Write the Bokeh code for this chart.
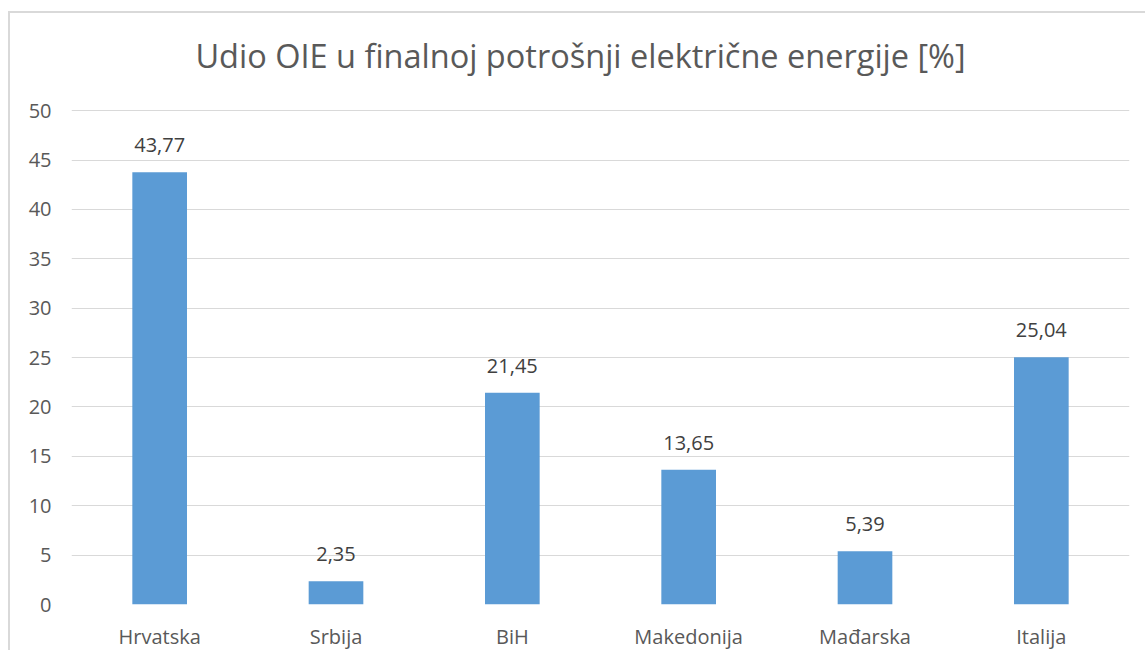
from bokeh.plotting import figure
from bokeh.models import ColumnDataSource, LabelSet, Label, FixedTicker, Range1d
from bokeh.core.properties import value
from bokeh.embed import file_html
from bokeh.resources import INLINE

countries = ["Hrvatska", "Srbija", "BiH", "Makedonija", "Mađarska", "Italija"]
shares = [43.77, 2.35, 21.45, 13.65, 5.39, 25.04]
share_labels = ["43,77", "2,35", "21,45", "13,65", "5,39", "25,04"]
y_ticks = [0, 5, 10, 15, 20, 25, 30, 35, 40, 45, 50]
title_text = "Udio OIE u finalnoj potrošnji električne energije [%]"

FONT = "Open Sans"
GRAY = "#595959"

# the plot frame runs to the top of the chart area so the title can sit inside it;
# the axis itself still ends at 50 (last tick / gridline)
Y_TOP = 59.84

src = ColumnDataSource(dict(c=countries, v=shares, t=share_labels))

p = figure(x_range=countries, y_range=Range1d(0, Y_TOP), width=1137, height=639,
           output_backend="svg", toolbar_location=None,
           min_border_left=61, min_border_right=18, min_border_top=0, min_border_bottom=40,
           styles={"border-top": "2px solid #d9d9d9", "border-left": "2px solid #d9d9d9",
                   "margin-top": "11px", "margin-left": "8px"})
p.outline_line_color = None
p.background_fill_color = "white"
p.border_fill_color = "white"

p.vbar(x="c", top="v", width=0.31, source=src, color="#5B9BD5", line_color=None)

p.add_layout(LabelSet(x="c", y="v", text="t", source=src, text_align="center",
                      text_baseline="alphabetic", y_offset=20, text_font=value(FONT),
                      text_font_size="20px", text_color="#404040"))

# chart title, centred a little left of the plot frame centre
p.add_layout(Label(x=len(countries) / 2, y=y_ticks[-1], x_offset=-20, y_offset=55,
                   text=title_text, text_align="center", text_baseline="alphabetic",
                   text_font=FONT, text_font_size="32.5px", text_color=GRAY))

p.xgrid.grid_line_color = None
p.ygrid.grid_line_color = "#D9D9D9"
p.ygrid.grid_line_width = 1

p.yaxis.ticker = FixedTicker(ticks=y_ticks)
for ax in (p.xaxis, p.yaxis):
    ax.axis_line_color = None
    ax.major_tick_line_color = None
    ax.minor_tick_line_color = None
    ax.major_label_text_font = FONT
    ax.major_label_text_font_size = "20px"
    ax.major_label_text_color = GRAY
p.yaxis.major_label_standoff = 14
p.xaxis.major_label_standoff = 12

open("out.html", "w").write(file_html(p, INLINE))
